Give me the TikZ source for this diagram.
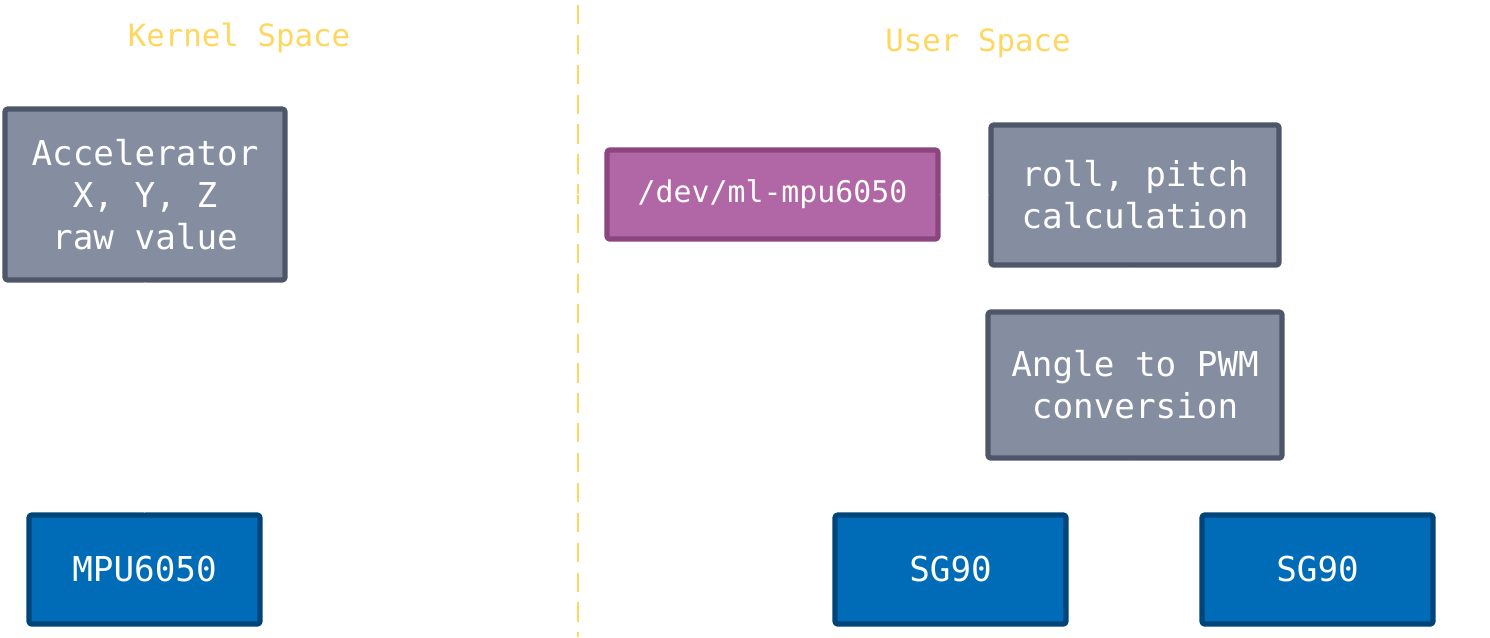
\documentclass[tikz,border=0pt]{standalone}
\usepackage{fontspec}
\setmonofont{DejaVu Sans Mono}
\usepackage{xcolor}
\usepackage{tikz}

\definecolor{grayfill}{HTML}{858DA1}
\definecolor{grayline}{HTML}{4E566A}
\definecolor{bluefill}{HTML}{006CB8}
\definecolor{blueline}{HTML}{00457A}
\definecolor{purplefill}{HTML}{B166A5}
\definecolor{purpleline}{HTML}{8B4680}
\definecolor{spaceyellow}{HTML}{FFD75F}

\begin{document}
\begin{tikzpicture}[x=0.02cm,y=-0.02cm,
    box/.style={draw, line width=3pt, line join=round, rounded corners=1.5pt, text=white, align=center,
      font=\ttfamily\fontsize{19.5}{23.8}\selectfont, inner sep=0pt},
    graybox/.style={box, fill=grayfill, draw=grayline},
    bluebox/.style={box, fill=bluefill, draw=blueline},
    purplebox/.style={box, fill=purplefill, draw=purpleline, font=\ttfamily\fontsize{17}{20}\selectfont},
    spacelabel/.style={text=spaceyellow, font=\ttfamily\fontsize{17.5}{20}\selectfont},
    link/.style={draw=white, line width=0.8pt}]
  \useasboundingbox (0,0) rectangle (1490,637);

  % divider between the two spaces
  \coordinate (divtop) at (578,5);
  \coordinate (divbot) at (578,637);
  \draw[spaceyellow, line width=1.1pt, dash pattern=on 11pt off 6pt] (divtop) -- (divbot);
  \node[spacelabel] (kernel) at (239,38) {Kernel Space};
  \node[spacelabel] (user) at (978,43) {User Space};

  % kernel side
  \node[graybox, minimum width=5.6cm, minimum height=3.42cm] (accel) at (145,194.5)
    {Accelerator\\X, Y, Z\\raw value};
  \node[bluebox, minimum width=4.62cm, minimum height=2.18cm] (mpu) at (144.5,569.5) {MPU6050};

  % user side
  \node[purplebox, minimum width=6.62cm, minimum height=1.78cm] (dev) at (772.5,194.5) {/dev/ml-mpu6050};
  \node[graybox, minimum width=5.76cm, minimum height=2.8cm] (roll) at (1135,195)
    {roll, pitch\\calculation};
  \node[graybox, minimum width=5.88cm, minimum height=2.92cm] (angle) at (1135,385)
    {Angle to PWM\\conversion};
  \node[bluebox, minimum width=4.62cm, minimum height=2.18cm] (sgl) at (950.5,569.5) {SG90};
  \node[bluebox, minimum width=4.62cm, minimum height=2.18cm] (sgr) at (1317.5,569.5) {SG90};

  % connectors
  \draw[link] (mpu.north) -- (accel.south);
  \draw[link] (accel.east) -- (dev.west);
  \draw[link] (dev.east) -- (roll.west);
  \draw[link] (roll.south) -- (angle.north);
  \draw[link] (angle.south) -- ++(0,25) -| (sgl.north);
  \draw[link] (angle.south) -- ++(0,25) -| (sgr.north);
\end{tikzpicture}
\end{document}
